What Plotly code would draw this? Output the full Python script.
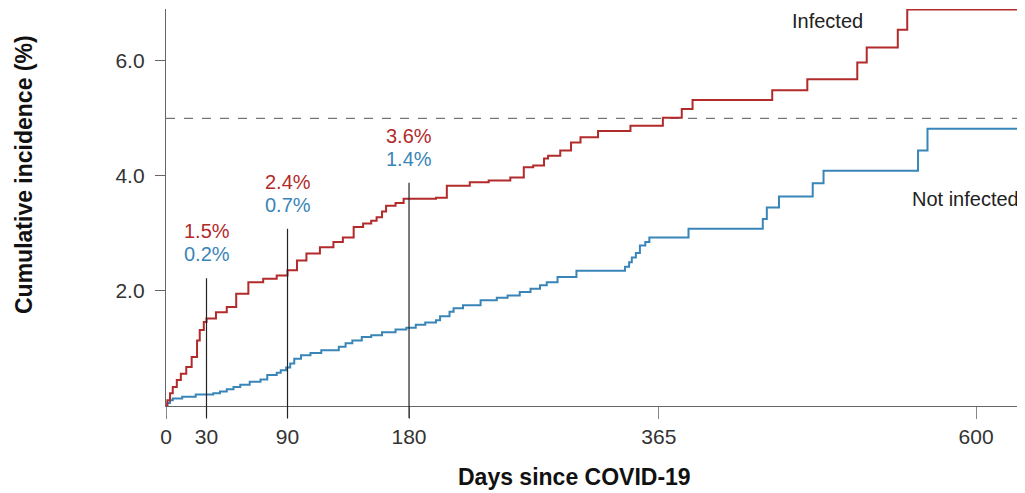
import plotly.graph_objects as go

# Step data (day, cumulative incidence %)
inf_days = [0, 1, 3, 5, 8, 11, 15, 19, 23, 25, 28, 30, 37, 45, 52, 61, 72, 82, 90, 97, 104, 114,
            124, 131, 139, 146, 152, 156, 160, 163, 170, 176, 200, 208, 225, 239, 255, 265, 272,
            280, 283, 292, 300, 307, 320, 344, 368, 382, 390, 449, 475, 512, 519, 542, 549, 634]
inf_vals = [0.0, 0.1, 0.22, 0.33, 0.45, 0.56, 0.68, 0.85, 1.14, 1.32, 1.46, 1.52, 1.63, 1.72, 1.95,
            2.15, 2.21, 2.27, 2.36, 2.53, 2.65, 2.76, 2.85, 2.93, 3.11, 3.17, 3.22, 3.28, 3.38, 3.48,
            3.53, 3.6, 3.62, 3.83, 3.89, 3.92, 3.97, 4.15, 4.18, 4.3, 4.35, 4.44, 4.58, 4.67, 4.78,
            4.87, 5.01, 5.16, 5.32, 5.49, 5.68, 5.97, 6.23, 6.54, 6.89, 6.89]

notinf_days = [0, 1, 3, 5, 12, 22, 35, 40, 45, 50, 55, 62, 70, 75, 82, 85, 89, 92, 95, 100, 107,
               115, 128, 133, 138, 145, 152, 160, 170, 178, 185, 192, 200, 203, 210, 213, 220, 233,
               245, 253, 262, 270, 277, 282, 290, 304, 340, 343, 345, 348, 351, 355, 358, 387, 442,
               445, 454, 479, 487, 557, 564, 634]
notinf_vals = [0.0, 0.05, 0.1, 0.13, 0.16, 0.2, 0.22, 0.25, 0.29, 0.33, 0.37, 0.42, 0.46, 0.54, 0.58,
               0.62, 0.67, 0.74, 0.82, 0.88, 0.92, 0.97, 1.03, 1.09, 1.14, 1.2, 1.23, 1.28, 1.33,
               1.36, 1.41, 1.45, 1.49, 1.56, 1.64, 1.7, 1.75, 1.84, 1.88, 1.92, 1.98, 2.04, 2.1,
               2.15, 2.24, 2.35, 2.42, 2.5, 2.58, 2.66, 2.79, 2.85, 2.93, 3.08, 3.25, 3.45, 3.64,
               3.87, 4.09, 4.44, 4.82, 4.82]

x_ticks = [0, 30, 90, 180, 365, 600]
y_ticks = [2, 4, 6]
y_tick_labels = ["2.0", "4.0", "6.0"]

mark_days = [30, 90, 180]
mark_tops = [2.22, 3.08, 3.88]
mark_inf = ["1.5%", "2.4%", "3.6%"]
mark_not = ["0.2%", "0.7%", "1.4%"]

RED = "#B22A2A"
BLUE = "#3A85B8"
FONT = "Liberation Sans, Arial, sans-serif"
YMAX = 6.9

# the page body adds an 8px offset; size the figure so it fits the window
OFF = 8
W, H = 1025 - OFF, 493 - OFF
ML, MR, MT, MB = 166 - OFF, 3, 1, 87
PW, PH = W - ML - MR, H - MT - MB


def px_x(xr):  # reference-pixel x -> paper coordinate
    return (xr - OFF - ML) / PW


def px_y(yr):  # reference-pixel y -> paper coordinate
    return (H - MB - (yr - OFF)) / PH


fig = go.Figure()
fig.add_trace(go.Scatter(x=notinf_days, y=notinf_vals, mode="lines", line_shape="hv",
                         line=dict(color=BLUE, width=2), name="Not infected", showlegend=False,
                         cliponaxis=False))
fig.add_trace(go.Scatter(x=inf_days, y=inf_vals, mode="lines", line_shape="hv",
                         line=dict(color=RED, width=2), name="Infected", showlegend=False,
                         cliponaxis=False))

# dashed reference line at 5%
fig.add_shape(type="line", xref="paper", yref="y", x0=0, x1=1, y0=5, y1=5,
              line=dict(color="#555555", width=1, dash="dash"), layer="below")

# vertical marker lines (extend below the axis like ticks)
for d, top, a, b in zip(mark_days, mark_tops, mark_inf, mark_not):
    fig.add_shape(type="line", xref="x", yref="paper", x0=d, x1=d,
                  y0=-12 / PH, y1=top / YMAX, line=dict(color="#222222", width=1.2), layer="above")
    fig.add_annotation(x=d, y=top, yref="y", xref="x", text=b, showarrow=False,
                       yshift=24, font=dict(family=FONT, size=20, color=BLUE))
    fig.add_annotation(x=d, y=top, yref="y", xref="x", text=a, showarrow=False,
                       yshift=47, font=dict(family=FONT, size=20, color=RED))

fig.add_annotation(xref="paper", yref="paper", x=px_x(827), y=px_y(21), text="Infected",
                   showarrow=False, xanchor="center", yanchor="middle",
                   font=dict(family=FONT, size=20, color="#222222"))
fig.add_annotation(xref="paper", yref="paper", x=px_x(965), y=px_y(199), text="Not infected",
                   showarrow=False, xanchor="center", yanchor="middle",
                   font=dict(family=FONT, size=20, color="#222222"))

# axis titles
fig.add_annotation(xref="paper", yref="paper", x=px_x(24), y=px_y(175),
                   text="<b>Cumulative incidence (%)</b>", textangle=-90, showarrow=False,
                   xanchor="center", yanchor="middle", font=dict(family=FONT, size=23, color="#111111"))
fig.add_annotation(xref="paper", yref="paper", x=px_x(574), y=px_y(477),
                   text="<b>Days since COVID-19</b>", showarrow=False,
                   xanchor="center", yanchor="middle", font=dict(family=FONT, size=23, color="#111111"))

fig.update_layout(
    width=W, height=H,
    margin=dict(l=ML, r=MR, t=MT, b=MB),
    plot_bgcolor="white", paper_bgcolor="white",
    font=dict(family=FONT, size=21, color="#333333"),
    xaxis=dict(range=[0, 634], tickvals=x_ticks, ticktext=[str(t) for t in x_ticks],
               showgrid=False, zeroline=False, showline=True, linecolor="#666666", linewidth=1.3,
               ticks="outside", ticklen=12, tickcolor="#888888", tickwidth=1.3, automargin=False,
               tickfont=dict(family=FONT, size=21, color="#333333")),
    yaxis=dict(range=[0, YMAX], tickvals=y_ticks, ticktext=y_tick_labels,
               showgrid=False, zeroline=False, showline=True, linecolor="#666666", linewidth=1.3,
               ticks="outside", ticklen=10, tickcolor="#666666", tickwidth=1.3, automargin=False,
               ticklabelstandoff=6,
               tickfont=dict(family=FONT, size=21, color="#333333")),
)

fig.write_html("out.html")
